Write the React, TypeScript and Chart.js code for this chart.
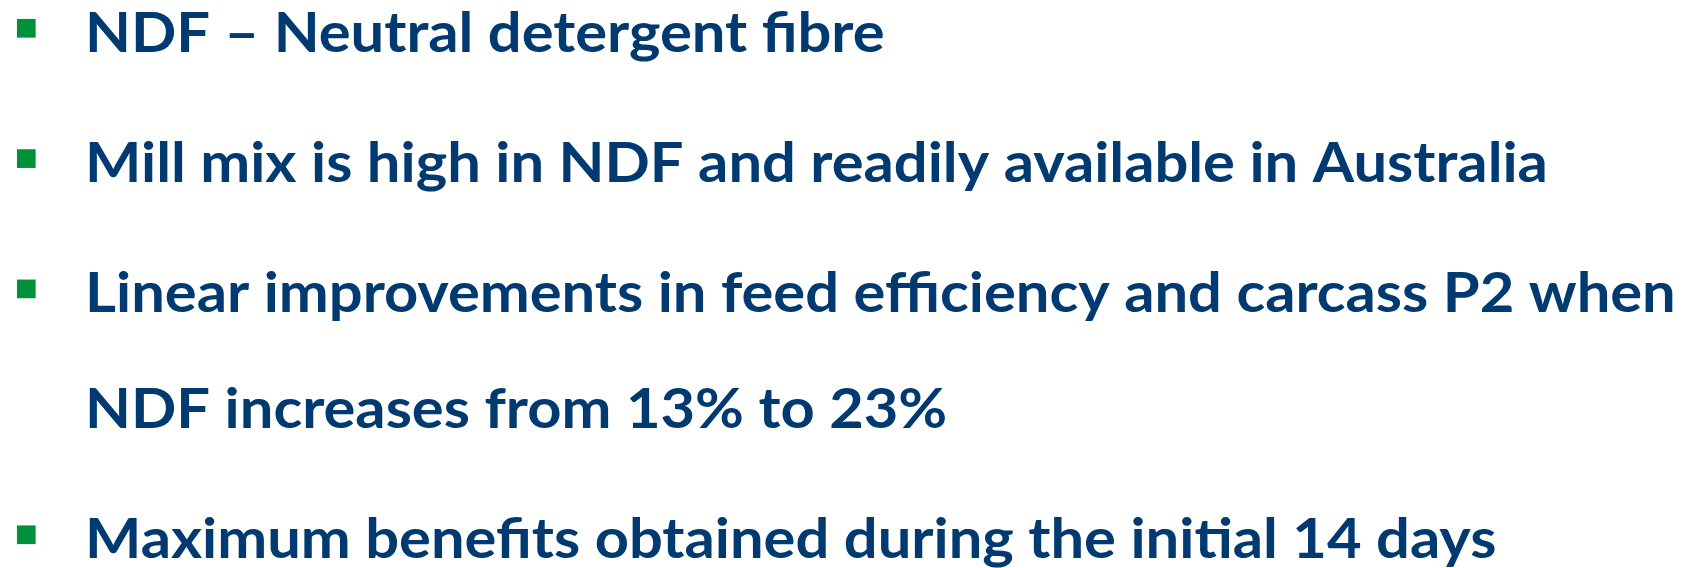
import React, { useEffect, useRef } from "react";
import { Chart, registerables } from "chart.js";

Chart.register(...registerables);

// ---- content ----
const textLines: string[] = [
  "NDF – Neutral detergent fibre",
  "Mill mix is high in NDF and readily available in Australia",
  "Linear improvements in feed efficiency and carcass P2 when",
  "NDF increases from 13% to 23%",
  "Maximum benefits obtained during the initial 14 days",
];
// true = line starts a new bullet point, false = continuation of previous bullet
const startsBullet: boolean[] = [true, true, true, false, true];

// ---- style / layout ----
const W = 1686;
const H = 568;
const TEXT_COLOR = "#003A70";
const BULLET_COLOR = "#00913A";
const FONT_FAMILY = "Lato";
const FONT_SIZE = 56;
const PARA_STEP = 1; // y-units between bullets
const CONT_STEP = 0.887; // y-units for a wrapped line
const Y_UNIT_PX = 130.3;
const FIRST_BULLET_PX = 28.3;
const BULLET_X_PX = 26.3;
const INDENT_PX = 60.7;
const TEXT_INK_LEFT = 89.3;
const TEXT_INK_RIGHT_MAX = 1673;
const BASELINE_OFFSET = 23.3;
const BULLET_SIDE = 18.7;

// compute y values (in line units) from flags
const lineValues: number[] = [];
{
  let v = 0;
  startsBullet.forEach((b, i) => {
    if (i > 0) v += b ? PARA_STEP : CONT_STEP;
    lineValues.push(v);
  });
}

const yMin = -FIRST_BULLET_PX / Y_UNIT_PX;
const yMax = yMin + H / Y_UNIT_PX;
const xMin = -BULLET_X_PX / INDENT_PX;
const xMax = xMin + W / INDENT_PX;

const textPlugin = {
  id: "bulletText",
  afterDatasetsDraw(chart: any) {
    const ctx: CanvasRenderingContext2D = chart.ctx;
    const ys = chart.scales.y;
    const xs = chart.scales.x;
    ctx.save();
    ctx.font = `bold ${FONT_SIZE}px "${FONT_FAMILY}"`;
    ctx.fillStyle = TEXT_COLOR;
    ctx.textBaseline = "alphabetic";
    ctx.textAlign = "left";
    // global horizontal scale so that the longest line spans the target width
    let maxInk = 0;
    textLines.forEach((t) => {
      const m = ctx.measureText(t);
      const ink = m.actualBoundingBoxRight + m.actualBoundingBoxLeft;
      if (ink > maxInk) maxInk = ink;
    });
    const sx = (TEXT_INK_RIGHT_MAX - TEXT_INK_LEFT) / maxInk;
    const inkLeft = xs.getPixelForValue((TEXT_INK_LEFT - BULLET_X_PX) / INDENT_PX);
    textLines.forEach((t, i) => {
      const m = ctx.measureText(t);
      const y = ys.getPixelForValue(lineValues[i]) + BASELINE_OFFSET;
      const x = inkLeft + m.actualBoundingBoxLeft * sx;
      ctx.save();
      ctx.translate(x, y);
      ctx.scale(sx, 1);
      ctx.fillText(t, 0, 0);
      ctx.restore();
    });
    ctx.restore();
  },
};

export default function App() {
  const ref = useRef<HTMLCanvasElement | null>(null);
  useEffect(() => {
    if (!ref.current) return;
    const bulletPoints = lineValues
      .map((v, i) => (startsBullet[i] ? { x: 0, y: v } : null))
      .filter((p) => p !== null) as { x: number; y: number }[];
    const chart = new Chart(ref.current, {
      type: "scatter",
      data: {
        datasets: [
          {
            data: bulletPoints,
            pointStyle: "rect",
            pointRadius: BULLET_SIDE / Math.SQRT2,
            pointHoverRadius: BULLET_SIDE / Math.SQRT2,
            pointBackgroundColor: BULLET_COLOR,
            pointBorderWidth: 0,
            pointBorderColor: BULLET_COLOR,
            showLine: false,
            clip: false as any,
          },
        ],
      },
      options: {
        animation: false,
        responsive: false,
        devicePixelRatio: 1,
        events: [],
        layout: { padding: 0, autoPadding: false },
        plugins: {
          legend: { display: false },
          tooltip: { enabled: false },
          title: { display: false },
        },
        scales: {
          x: { type: "linear", min: xMin, max: xMax, display: false },
          y: { type: "linear", min: yMin, max: yMax, reverse: true, display: false },
        },
      },
      plugins: [textPlugin],
    });
    return () => chart.destroy();
  }, []);
  return (
    <div style={{ position: "fixed", left: 0, top: 0, width: W, height: H, background: "#fff" }}>
      <canvas ref={ref} width={W} height={H} style={{ display: "block" }} />
    </div>
  );
}
